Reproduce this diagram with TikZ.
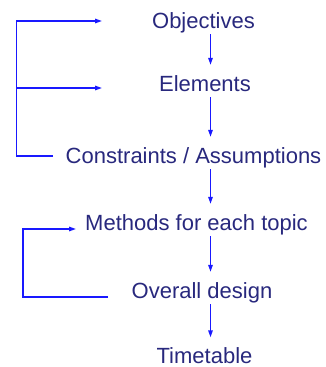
\documentclass[tikz,border=0pt]{standalone}
\usepackage{fontspec}
\setmainfont{Liberation Sans}
\usetikzlibrary{arrows.meta}
\definecolor{textnavy}{RGB}{40,40,125}
\definecolor{linkblue}{RGB}{25,25,255}
\tikzset{
    item/.style={anchor=base, inner sep=0pt, text height=16pt, text depth=0pt,
        font=\fontsize{22}{26}\selectfont, text=textnavy},
    link/.style={draw=linkblue, line width=1.4pt, -{Triangle[length=7pt,width=4.5pt]}},
    bare/.style={draw=linkblue, line width=1.4pt}
}
\begin{document}
\begin{tikzpicture}[x=1pt, y=-1pt]
            \useasboundingbox (0,0) rectangle (326,367);
            \node[item] (obj) at (203.5,28) {Objectives};
            \node[item] (elem) at (205,91) {Elements};
            \node[item] (cons) at (193.5,163) {Constraints / Assumptions};
            \node[item] (meth) at (196.5,230) {Methods for each topic};
            \node[item] (over) at (202,298) {Overall design};
            \node[item] (time) at (204.5,363.5) {Timetable};
            \coordinate (ax) at (210.5,0);
            \foreach \a/\b in {obj/elem, elem/cons, cons/meth, meth/over, over/time} {
                \draw[link, shorten <=6pt, shorten >=10pt] (\a.south -| ax) -- (\b.north -| ax);
            }
            % feedback to the top
            \coordinate (objin) at (102,21);
            \coordinate (elemin) at (102,88);
            \coordinate (consout) at (53,156);
            \draw[link] (consout) -| (16.5,21) -- (objin);
            \draw[link] (16.5,88) -- (elemin);
            % feedback to methods
            \coordinate (methin) at (76,229);
            \coordinate (overout) at (108,297);
            \draw[link] (overout) -| (23,229) -- (methin);
\end{tikzpicture}
\end{document}
